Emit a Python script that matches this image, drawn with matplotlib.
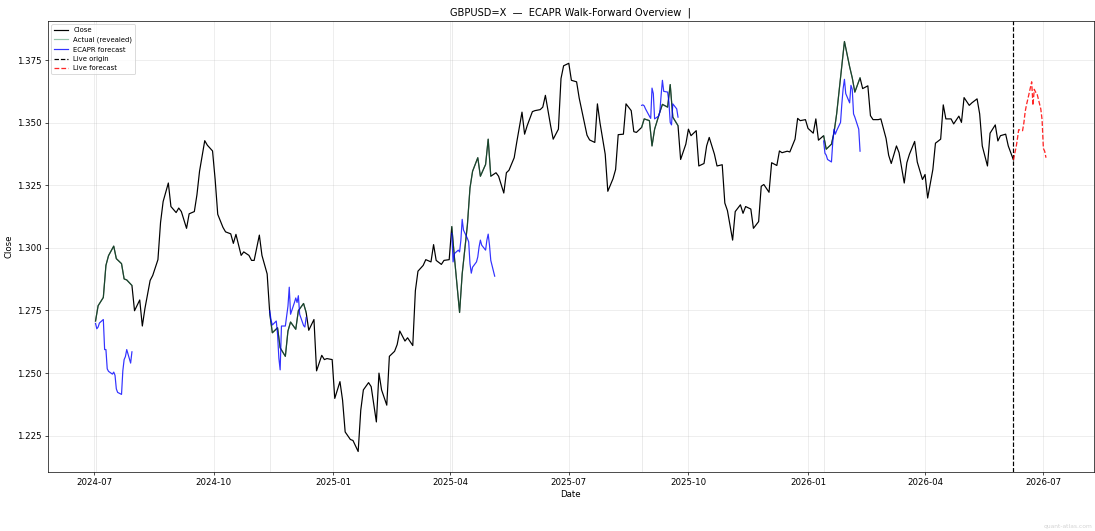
import numpy as np
import pandas as pd
import matplotlib
matplotlib.use("Agg")
import matplotlib.pyplot as plt
import matplotlib.dates as mdates

# close sampled every 2nd business day from 2024-07-02
close = [
    1.2708, 1.2769, 1.2802, 1.2930, 1.2969, 1.3007, 1.2957, 1.2937, 1.2876, 1.2872,
    1.2850, 1.2749, 1.2792, 1.2688, 1.2758, 1.2870, 1.2890, 1.2953, 1.3101, 1.3185,
    1.3259, 1.3165, 1.3141, 1.3159, 1.3145, 1.3078, 1.3136, 1.3145, 1.3212, 1.3306,
    1.3428, 1.3410, 1.3387, 1.3273, 1.3134, 1.3082, 1.3064, 1.3056, 1.3018, 1.3054,
    1.2970, 1.2984, 1.2970, 1.2950, 1.2950, 1.3051, 1.2970, 1.2896, 1.2738, 1.2661,
    1.2681, 1.2601, 1.2567, 1.2668, 1.2704, 1.2675, 1.2749, 1.2778, 1.2742, 1.2671,
    1.2714, 1.2509, 1.2571, 1.2554, 1.2558, 1.2554, 1.2399, 1.2466, 1.2392, 1.2265,
    1.2235, 1.2231, 1.2187, 1.2352, 1.2433, 1.2462, 1.2446, 1.2305, 1.2500, 1.2433,
    1.2372, 1.2567, 1.2587, 1.2614, 1.2668, 1.2628, 1.2641, 1.2610, 1.2829, 1.2907,
    1.2930, 1.2953, 1.2944, 1.3013, 1.2950, 1.2934, 1.2950, 1.2953, 1.3085, 1.2964,
    1.2742, 1.2896, 1.3091, 1.3239, 1.3306, 1.3360, 1.3286, 1.3333, 1.3434, 1.3286,
    1.3300, 1.3286, 1.3219, 1.3300, 1.3310, 1.3360, 1.3423, 1.3542, 1.3454, 1.3488,
    1.3544, 1.3548, 1.3552, 1.3562, 1.3609, 1.3488, 1.3434, 1.3474, 1.3676, 1.3727,
    1.3737, 1.3669, 1.3663, 1.3598, 1.3548, 1.3450, 1.3431, 1.3421, 1.3575, 1.3499,
    1.3374, 1.3226, 1.3276, 1.3313, 1.3452, 1.3454, 1.3575, 1.3548, 1.3464, 1.3461,
    1.3481, 1.3515, 1.3508, 1.3407, 1.3474, 1.3542, 1.3573, 1.3562, 1.3652, 1.3522,
    1.3488, 1.3353, 1.3414, 1.3474, 1.3448, 1.3468, 1.3327, 1.3337, 1.3407, 1.3441,
    1.3374, 1.3327, 1.3332, 1.3179, 1.3149, 1.3031, 1.3145, 1.3172, 1.3138, 1.3165,
    1.3155, 1.3078, 1.3105, 1.3246, 1.3253, 1.3222, 1.3340, 1.3329, 1.3387, 1.3380,
    1.3386, 1.3383, 1.3434, 1.3517, 1.3508, 1.3512, 1.3477, 1.3458, 1.3515, 1.3430,
    1.3448, 1.3394, 1.3414, 1.3461, 1.3535, 1.3730, 1.3824, 1.3723, 1.3679, 1.3622,
    1.3679, 1.3636, 1.3647, 1.3528, 1.3512, 1.3512, 1.3515, 1.3437, 1.3370, 1.3337,
    1.3407, 1.3380, 1.3259, 1.3340, 1.3374, 1.3425, 1.3343, 1.3273, 1.3293, 1.3199,
    1.3313, 1.3418, 1.3434, 1.3571, 1.3515, 1.3515, 1.3495, 1.3526, 1.3501, 1.3600,
    1.3569, 1.3579, 1.3595, 1.3535, 1.3407, 1.3327, 1.3458, 1.3491, 1.3427, 1.3448,
    1.3454, 1.3407, 1.3351,
]

# walk-forward forecasts (daily business days from origin)
fc_origin = [0, 48, 98, 150, 200]
fc1 = [1.2698, 1.2677, 1.2684, 1.2700, 1.2714, 1.2594, 1.2594, 1.2517, 1.2507, 1.2496,
       1.2504, 1.2491, 1.2437, 1.2423, 1.2415, 1.2509, 1.2554, 1.2566, 1.2594, 1.2540, 1.2585]
fc2 = [1.2749, 1.2711, 1.2692, 1.2708, 1.2655, 1.2560, 1.2513, 1.2688, 1.2688, 1.2728,
       1.2767, 1.2843, 1.2735, 1.2782, 1.2800, 1.2782, 1.2809, 1.2735, 1.2690, 1.2684, 1.2722]
fc3 = [1.3058, 1.2944, 1.2977, 1.2991, 1.2984, 1.3031, 1.3114, 1.3071, 1.3038, 1.3024,
       1.2937, 1.2899, 1.2923, 1.2944, 1.2964, 1.3004, 1.3031, 1.3011, 1.2991, 1.3031,
       1.3055, 1.3011, 1.2950, 1.2887]
fc4 = [1.3569, 1.3571, 1.3567, 1.3555, 1.3526, 1.3517, 1.3638, 1.3616, 1.3515, 1.3526,
       1.3542, 1.3609, 1.3669, 1.3625, 1.3622, 1.3582, 1.3501, 1.3491, 1.3575, 1.3555, 1.3522]
fc5 = [1.3427, 1.3378, 1.3370, 1.3353, 1.3343, 1.3421, 1.3474, 1.3454, 1.3468, 1.3501,
       1.3575, 1.3636, 1.3673, 1.3616, 1.3579, 1.3649, 1.3633, 1.3535, 1.3522, 1.3474, 1.3386]
forecasts = [fc1, fc2, fc3, fc4, fc5]

live_fc = [1.3351, 1.3378, 1.3401, 1.3434, 1.3472, 1.3468, 1.3499, 1.3544, 1.3571, 1.3593,
           1.3663, 1.3569, 1.3633, 1.3622, 1.3618, 1.3555, 1.3512, 1.3397, 1.3386, 1.3360]

dates = pd.bdate_range("2024-07-02", periods=2 * len(close) - 1)[::2]
close_s = pd.Series(close, index=dates)

dpi = 62
fig, ax = plt.subplots(figsize=(1095 / dpi, 531 / dpi), dpi=dpi)
fig.subplots_adjust(left=48 / 1095, right=1093.5 / 1095, bottom=1 - 472 / 531, top=1 - 21 / 531)

ax.plot(close_s.index, close_s.values, color="black", lw=1.4, label="Close", zorder=2)

for i, (k, fc) in enumerate(zip(fc_origin, forecasts)):
    fdates = pd.bdate_range(dates[k], periods=len(fc))
    seg = close_s[(close_s.index >= fdates[0]) & (close_s.index <= fdates[-1])]
    ax.axvline(fdates[0], color="grey", alpha=0.2, lw=0.9, zorder=1)
    ax.plot(seg.index, seg.values, color="seagreen", alpha=0.5, lw=1.4,
            label="Actual (revealed)" if i == 0 else None, zorder=3)
    ax.plot(fdates, fc, color="blue", alpha=0.8, lw=1.4,
            label="ECAPR forecast" if i == 0 else None, zorder=4)

live_dates = pd.bdate_range(dates[-1], periods=len(live_fc))
ax.axvline(dates[-1], color="black", ls="--", lw=1.4, label="Live origin", zorder=5)
ax.plot(live_dates, live_fc, color="red", ls="--", alpha=0.85, lw=1.5,
        label="Live forecast", zorder=5)

ax.xaxis.set_major_locator(mdates.MonthLocator(bymonth=[1, 4, 7, 10]))
ax.xaxis.set_major_formatter(mdates.DateFormatter("%Y-%m"))
ax.grid(alpha=0.3)
ax.set_title("GBPUSD=X  \u2014  ECAPR Walk-Forward Overview  |", fontsize=11.5)
ax.set_xlabel("Date")
ax.set_ylabel("Close")
ax.legend(loc="upper left", fontsize=8)

fig.text(0.998, 0.004, "quant-atlas.com", ha="right", va="bottom", fontsize=7,
         color="grey", alpha=0.35)

fig.savefig("out.png", dpi=dpi)
